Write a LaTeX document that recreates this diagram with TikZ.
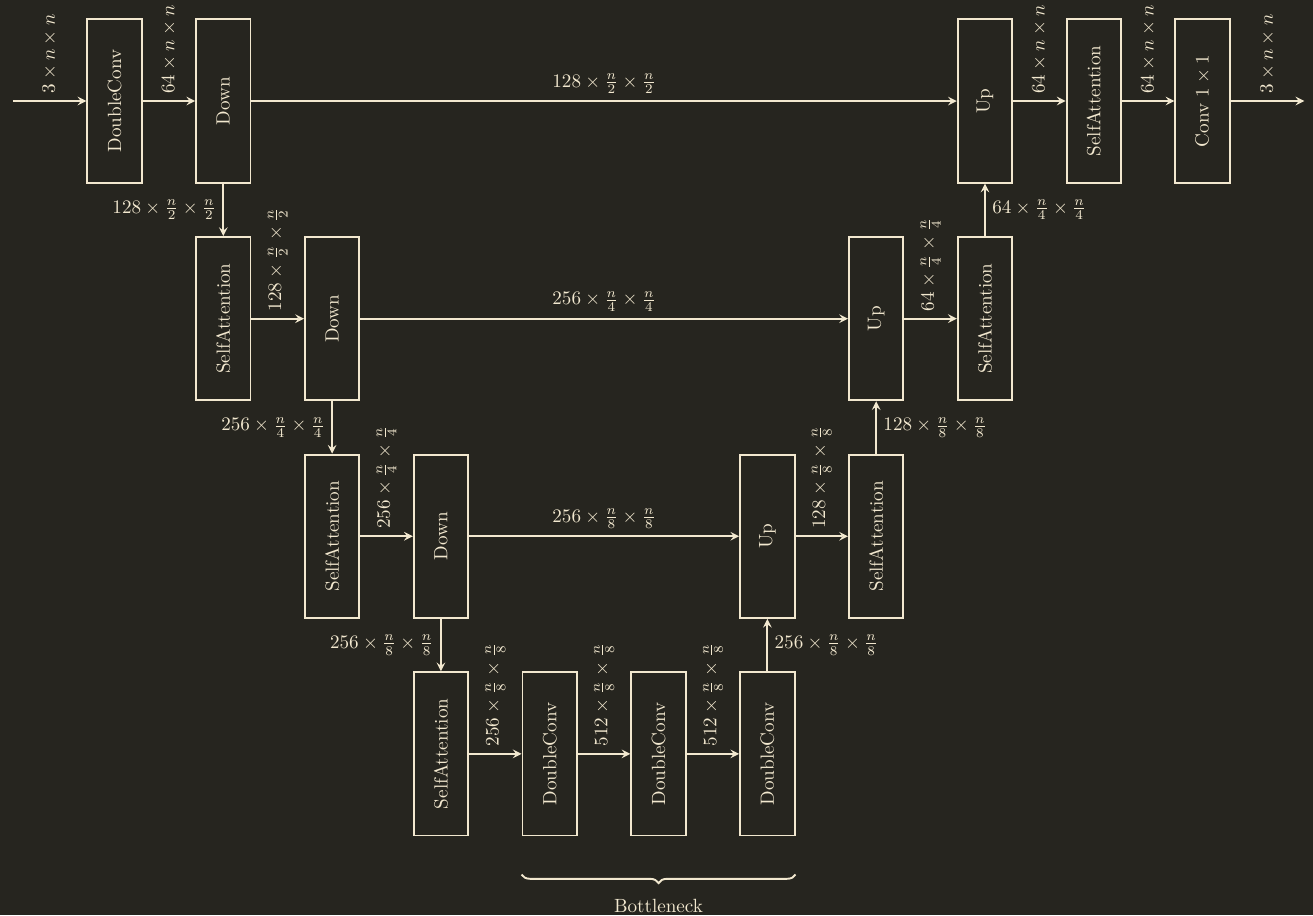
\documentclass[tikz,border=0pt]{standalone}
\usepackage{xcolor}
\usetikzlibrary{backgrounds, decorations.pathreplacing}
\definecolor{unetbg}{HTML}{26251F}
\definecolor{unetfg}{HTML}{F2E8CF}
\newcommand{\featdim}[2]{
    $#1\times\frac{n}{#2}\times\frac{n}{#2}$\ignorespaces
}
\begin{document}
\begin{tikzpicture}[background rectangle/.style={fill=unetbg}, show background rectangle, tight background,
    color=unetfg, line width=1pt, >=stealth,
    block/.style={draw, rotate=90, minimum width=3cm, minimum height=1cm},
    vlabel/.style={midway, rotate=90, anchor=west}]
    \useasboundingbox (-2.105,1.857) rectangle (22.03,-14.963);

    % encoder
    \node[block] (inconv) at (0,0) {DoubleConv};
    \node[block] (down1) at (2,0) {Down};
    \node[block] (sa1) at (2,-4) {SelfAttention};
    \node[block] (down2) at (4,-4) {Down};
    \node[block] (sa2) at (4,-8) {SelfAttention};
    \node[block] (down3) at (6,-8) {Down};
    \node[block] (sa3) at (6,-12) {SelfAttention};
    % bottleneck
    \node[block] (bot1) at (8,-12) {DoubleConv};
    \node[block] (bot2) at (10,-12) {DoubleConv};
    \node[block] (bot3) at (12,-12) {DoubleConv};
    % decoder
    \node[block] (up1) at (12,-8) {Up};
    \node[block] (sa4) at (14,-8) {SelfAttention};
    \node[block] (up2) at (14,-4) {Up};
    \node[block] (sa5) at (16,-4) {SelfAttention};
    \node[block] (up3) at (16,0) {Up};
    \node[block] (sa6) at (18,0) {SelfAttention};
    \node[block] (outconv) at (20,0) {Conv $1\times1$};

    \coordinate (input) at (-1.87,0);
    \coordinate (output) at (21.87,0);

    % down path
    \draw[->] (input) -- (inconv) node[vlabel] {$3\times n\times n$};
    \draw[->] (inconv) -- (down1) node[vlabel] {$64\times n\times n$};
    \draw[->] (down1) -- (sa1) node[midway, left] {\featdim{128}{2}};
    \draw[->] (sa1) -- (down2) node[vlabel] {\featdim{128}{2}};
    \draw[->] (down2) -- (sa2) node[midway, left] {\featdim{256}{4}};
    \draw[->] (sa2) -- (down3) node[vlabel] {\featdim{256}{4}};
    \draw[->] (down3) -- (sa3) node[midway, left] {\featdim{256}{8}};
    \draw[->] (sa3) -- (bot1) node[vlabel] {\featdim{256}{8}};
    \draw[->] (bot1) -- (bot2) node[vlabel] {\featdim{512}{8}};
    \draw[->] (bot2) -- (bot3) node[vlabel] {\featdim{512}{8}};
    % skip connections
    \draw[->] (down1) -- (up3) node[midway, above] {\featdim{128}{2}};
    \draw[->] (down2) -- (up2) node[midway, above] {\featdim{256}{4}};
    \draw[->] (down3) -- (up1) node[midway, above] {\featdim{256}{8}};
    % up path
    \draw[->] (bot3) -- (up1) node[midway, right] {\featdim{256}{8}};
    \draw[->] (up1) -- (sa4) node[vlabel] {\featdim{128}{8}};
    \draw[->] (sa4) -- (up2) node[midway, right] {\featdim{128}{8}};
    \draw[->] (up2) -- (sa5) node[vlabel] {\featdim{64}{4}};
    \draw[->] (sa5) -- (up3) node[midway, right] {\featdim{64}{4}};
    \draw[->] (up3) -- (sa6) node[vlabel] {$64\times n\times n$};
    \draw[->] (sa6) -- (outconv) node[vlabel] {$64\times n\times n$};
    \draw[->] (outconv) -- (output) node[vlabel] {$3\times n\times n$};

    % bottleneck brace
    \draw[decorate, decoration={brace, mirror, amplitude=4.5pt}] ([yshift=-0.7cm]bot1.north west) -- ([yshift=-0.7cm]bot3.south west)
        node[midway, below=9pt] (bneck) {Bottleneck};
\end{tikzpicture}
\end{document}
